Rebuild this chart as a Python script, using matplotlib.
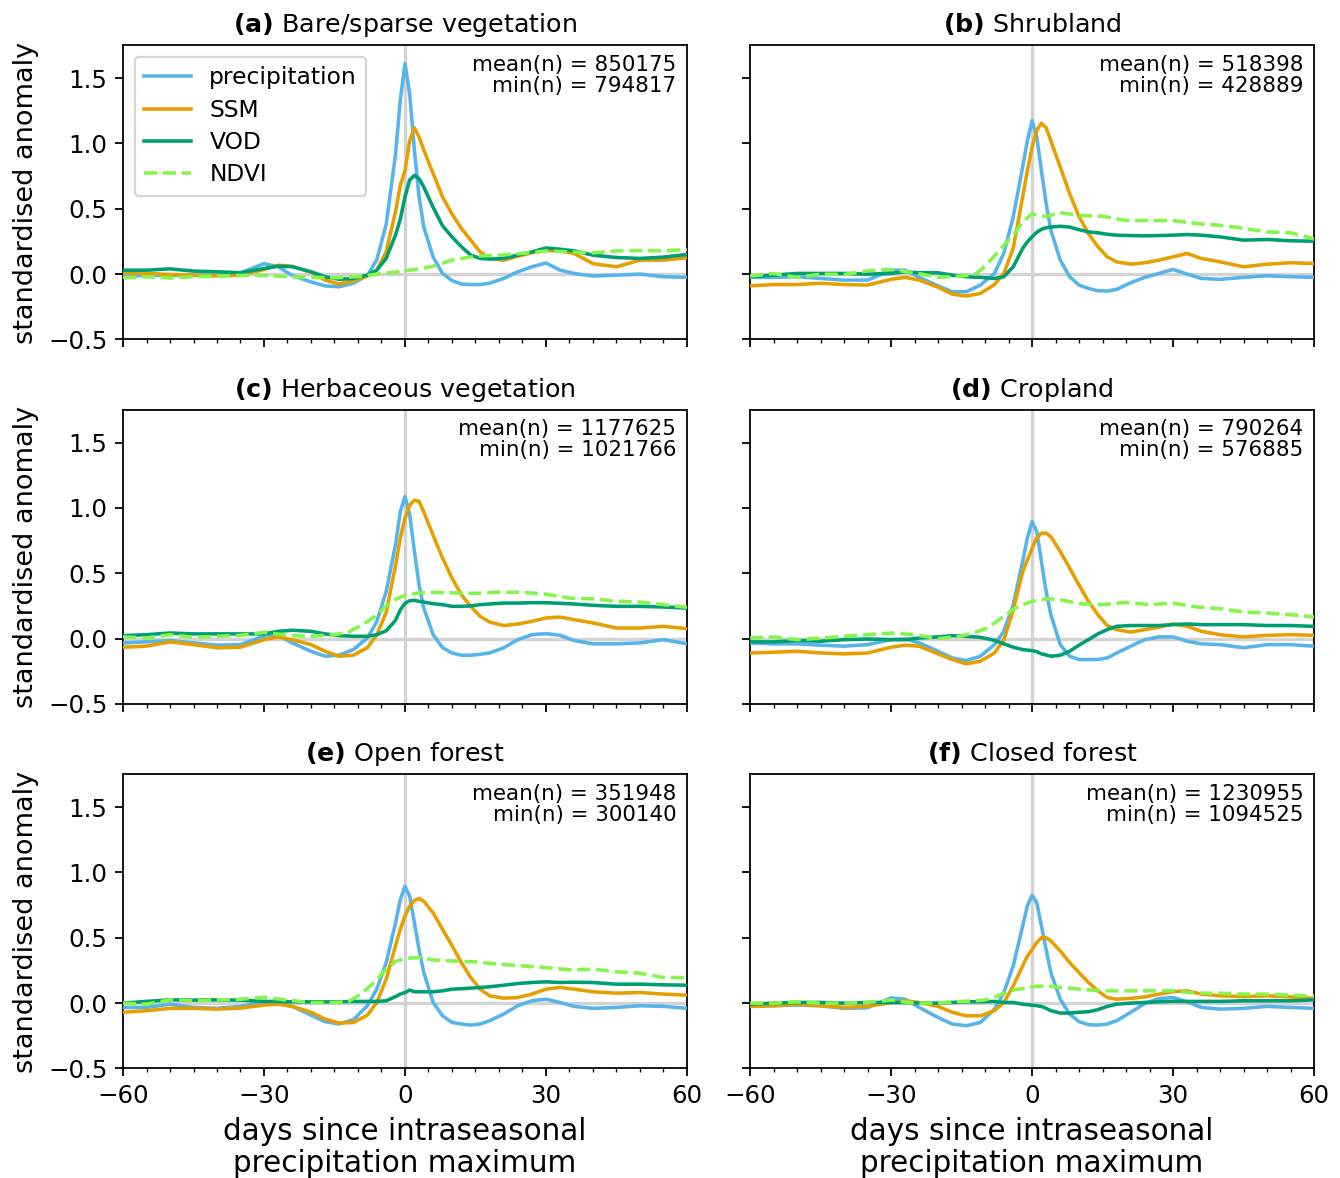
import matplotlib
matplotlib.use("Agg")
import matplotlib.pyplot as plt
from matplotlib.ticker import MultipleLocator

DAYS = [-60, -55, -50, -45, -40, -35, -30, -27, -24, -20, -17, -14, -11, -8, -6, -4, -2, -1, 0,
        1, 2, 3, 4, 6, 8, 10, 12, 14, 16, 18, 21, 24, 27, 30, 33, 36, 40, 45, 50, 55, 60]
NDVI_DAYS = [-60, -55, -50, -45, -40, -35, -30, -25, -20, -15, -12, -10, -8, -6, -4, -2, 0,
             3, 6, 10, 15, 20, 25, 30, 35, 40, 45, 50, 55, 60]

titles = ["Bare/sparse vegetation", "Shrubland", "Herbaceous vegetation",
          "Cropland", "Open forest", "Closed forest"]
letters = ["a", "b", "c", "d", "e", "f"]
mean_n = [850175, 518398, 1177625, 790264, 351948, 1230955]
min_n = [794817, 428889, 1021766, 576885, 300140, 1094525]

# (a) Bare/sparse vegetation
prec_a = [-0.015, -0.01, -0.01, -0.01, -0.01, 0.01, 0.08, 0.056, -0.01, -0.06, -0.09, -0.097, -0.07,
          -0.01, 0.11, 0.38, 0.92, 1.33, 1.61, 1.38, 0.95, 0.59, 0.36, 0.13, 0.005, -0.05, -0.076,
          -0.08, -0.08, -0.07, -0.033, 0.018, 0.056, 0.085, 0.03, 0.005, -0.015, -0.008, 0.0, -0.02, -0.025]
ssm_a = [0.01, 0.005, -0.003, -0.008, -0.013, -0.008, 0.035, 0.068, 0.06, 0.015, -0.046, -0.076, -0.05,
         -0.015, 0.03, 0.17, 0.48, 0.68, 0.79, 1.02, 1.12, 1.05, 0.95, 0.77, 0.59, 0.46, 0.35, 0.26,
         0.17, 0.12, 0.107, 0.137, 0.163, 0.18, 0.178, 0.158, 0.08, 0.056, 0.107, 0.107, 0.125]
vod_a = [0.03, 0.03, 0.04, 0.023, 0.018, 0.01, 0.043, 0.061, 0.056, 0.018, -0.02, -0.04, -0.033,
         -0.008, 0.03, 0.12, 0.3, 0.42, 0.59, 0.72, 0.756, 0.73, 0.667, 0.51, 0.37, 0.285, 0.21,
         0.145, 0.12, 0.115, 0.12, 0.145, 0.17, 0.2, 0.19, 0.178, 0.145, 0.127, 0.12, 0.13, 0.15]
ndvi_a = [-0.028, -0.02, -0.03, -0.02, -0.015, -0.01, -0.01, -0.02, -0.025, -0.028, -0.022, -0.02,
          -0.01, 0.0, 0.008, 0.015, 0.025, 0.04, 0.06, 0.107, 0.137, 0.145, 0.158, 0.178, 0.17,
          0.163, 0.178, 0.18, 0.178, 0.188]

# (b) Shrubland
prec_b = [-0.025, -0.025, -0.02, -0.033, -0.046, -0.046, 0.03, 0.03, -0.025, -0.09, -0.135, -0.135,
          -0.084, 0.005, 0.16, 0.44, 0.82, 1.02, 1.175, 1.05, 0.79, 0.54, 0.336, 0.107, -0.02, -0.084,
          -0.11, -0.127, -0.13, -0.117, -0.066, -0.025, 0.005, 0.036, 0.0, -0.033, -0.04, -0.025,
          -0.013, -0.02, -0.025]
ssm_b = [-0.09, -0.08, -0.08, -0.07, -0.08, -0.084, -0.04, -0.025, -0.046, -0.1, -0.153, -0.168,
         -0.148, -0.08, 0.005, 0.2, 0.59, 0.79, 0.97, 1.1, 1.155, 1.12, 1.02, 0.82, 0.616, 0.44,
         0.31, 0.21, 0.132, 0.094, 0.076, 0.087, 0.107, 0.132, 0.158, 0.12, 0.094, 0.056, 0.076,
         0.087, 0.081]
vod_b = [-0.02, -0.008, 0.005, 0.005, 0.005, 0.0, 0.005, 0.018, 0.01, 0.01, -0.008, -0.02, -0.025,
         -0.033, -0.02, 0.056, 0.196, 0.247, 0.285, 0.32, 0.343, 0.355, 0.36, 0.366, 0.36, 0.34,
         0.323, 0.316, 0.305, 0.298, 0.295, 0.293, 0.295, 0.298, 0.303, 0.298, 0.285, 0.26, 0.265,
         0.255, 0.252]
ndvi_b = [-0.015, 0.005, -0.025, 0.0, -0.003, 0.025, 0.036, 0.01, -0.025, -0.015, 0.0, 0.06, 0.14,
          0.22, 0.3, 0.4, 0.46, 0.44, 0.47, 0.45, 0.443, 0.41, 0.41, 0.41, 0.387, 0.374, 0.35,
          0.323, 0.316, 0.27]

# (c) Herbaceous vegetation
prec_c = [-0.033, -0.025, -0.015, -0.033, -0.05, -0.046, 0.02, 0.025, -0.033, -0.097, -0.135, -0.127,
          -0.084, 0.005, 0.13, 0.36, 0.72, 0.97, 1.087, 0.95, 0.67, 0.41, 0.234, 0.03, -0.07, -0.11,
          -0.127, -0.127, -0.12, -0.11, -0.07, -0.008, 0.03, 0.038, 0.025, -0.015, -0.04, -0.04,
          -0.033, -0.008, -0.04]
ssm_c = [-0.066, -0.058, -0.025, -0.046, -0.07, -0.066, -0.008, 0.013, -0.008, -0.046, -0.097,
         -0.135, -0.127, -0.07, 0.03, 0.2, 0.56, 0.77, 0.92, 1.02, 1.06, 1.05, 0.97, 0.79, 0.616,
         0.463, 0.336, 0.247, 0.17, 0.127, 0.1, 0.112, 0.132, 0.158, 0.165, 0.145, 0.12, 0.081,
         0.081, 0.094, 0.076]
vod_c = [0.023, 0.03, 0.043, 0.036, 0.036, 0.036, 0.036, 0.056, 0.064, 0.056, 0.036, 0.023, 0.018,
         0.018, 0.03, 0.06, 0.14, 0.22, 0.27, 0.29, 0.293, 0.285, 0.28, 0.267, 0.26, 0.247, 0.247,
         0.25, 0.26, 0.265, 0.272, 0.272, 0.275, 0.275, 0.27, 0.265, 0.255, 0.247, 0.247, 0.242, 0.234]
ndvi_c = [0.013, 0.005, 0.03, 0.01, 0.018, 0.025, 0.048, 0.025, 0.018, 0.03, 0.05, 0.09, 0.13, 0.18,
          0.25, 0.3, 0.33, 0.35, 0.354, 0.35, 0.346, 0.356, 0.354, 0.34, 0.31, 0.305, 0.285, 0.28,
          0.26, 0.24]

# (d) Cropland
prec_d = [-0.033, -0.04, -0.04, -0.05, -0.058, -0.046, -0.008, -0.003, -0.033, -0.097, -0.148, -0.168,
          -0.135, -0.046, 0.056, 0.26, 0.59, 0.77, 0.895, 0.82, 0.59, 0.36, 0.183, -0.046, -0.135,
          -0.16, -0.16, -0.16, -0.148, -0.11, -0.058, -0.008, 0.013, 0.013, -0.02, -0.04, -0.046,
          -0.07, -0.046, -0.046, -0.058]
ssm_d = [-0.11, -0.104, -0.097, -0.11, -0.117, -0.11, -0.066, -0.05, -0.058, -0.117, -0.16, -0.193,
         -0.173, -0.11, -0.01, 0.22, 0.51, 0.6, 0.69, 0.77, 0.807, 0.807, 0.78, 0.667, 0.54, 0.41,
         0.285, 0.183, 0.1, 0.069, 0.05, 0.069, 0.087, 0.112, 0.094, 0.056, 0.03, 0.013, 0.025,
         0.03, 0.025]
vod_d = [-0.025, -0.025, -0.015, -0.02, -0.008, -0.003, -0.008, -0.008, 0.005, 0.013, 0.023, 0.018,
         0.01, -0.013, -0.04, -0.066, -0.084, -0.088, -0.092, -0.1, -0.117, -0.125, -0.135, -0.127,
         -0.097, -0.05, -0.008, 0.036, 0.069, 0.094, 0.1, 0.1, 0.1, 0.107, 0.112, 0.107, 0.107,
         0.107, 0.1, 0.1, 0.094]
ndvi_d = [0.005, 0.013, -0.008, 0.003, 0.018, 0.03, 0.043, 0.03, 0.0, 0.02, 0.05, 0.075, 0.12, 0.17,
          0.225, 0.26, 0.285, 0.305, 0.298, 0.267, 0.26, 0.277, 0.26, 0.272, 0.242, 0.229, 0.204,
          0.196, 0.183, 0.165]

# (e) Open forest
prec_e = [-0.033, -0.033, -0.008, -0.033, -0.04, -0.025, 0.005, 0.013, -0.025, -0.092, -0.142, -0.16,
          -0.127, -0.02, 0.107, 0.31, 0.616, 0.79, 0.895, 0.82, 0.616, 0.41, 0.234, 0.005, -0.097,
          -0.148, -0.16, -0.168, -0.16, -0.135, -0.084, -0.02, 0.018, 0.03, 0.005, -0.025, -0.04,
          -0.033, -0.02, -0.025, -0.04]
ssm_e = [-0.07, -0.058, -0.04, -0.04, -0.046, -0.038, -0.015, -0.008, -0.025, -0.07, -0.122, -0.153,
         -0.148, -0.092, 0.005, 0.183, 0.44, 0.565, 0.667, 0.743, 0.786, 0.8, 0.78, 0.69, 0.565,
         0.44, 0.31, 0.196, 0.107, 0.056, 0.038, 0.043, 0.069, 0.107, 0.12, 0.107, 0.087, 0.076,
         0.081, 0.069, 0.061]
vod_e = [0.0, 0.013, 0.025, 0.023, 0.025, 0.023, 0.013, 0.013, 0.01, 0.01, 0.01, 0.01, 0.013, 0.013,
         0.013, 0.018, 0.05, 0.069, 0.081, 0.1, 0.087, 0.087, 0.087, 0.087, 0.094, 0.107, 0.11,
         0.115, 0.12, 0.125, 0.137, 0.15, 0.158, 0.163, 0.158, 0.16, 0.158, 0.145, 0.145, 0.14, 0.137]
ndvi_e = [0.0, -0.008, 0.025, 0.018, 0.025, 0.03, 0.045, 0.023, 0.005, 0.005, 0.013, 0.056, 0.112,
          0.18, 0.26, 0.32, 0.34, 0.35, 0.33, 0.323, 0.316, 0.298, 0.285, 0.272, 0.255, 0.26, 0.24,
          0.229, 0.196, 0.196]

# (f) Closed forest
prec_f = [-0.025, -0.02, -0.015, -0.02, -0.04, -0.035, 0.04, 0.03, -0.033, -0.11, -0.16, -0.173,
          -0.148, -0.046, 0.081, 0.285, 0.59, 0.743, 0.824, 0.77, 0.59, 0.41, 0.234, 0.03, -0.084,
          -0.142, -0.165, -0.168, -0.16, -0.135, -0.07, -0.003, 0.036, 0.043, 0.01, -0.033, -0.046,
          -0.04, -0.025, -0.033, -0.04]
ssm_f = [-0.025, -0.02, -0.008, -0.02, -0.033, -0.025, 0.005, 0.018, 0.005, -0.025, -0.07, -0.097,
         -0.097, -0.058, 0.005, 0.132, 0.285, 0.36, 0.41, 0.463, 0.5, 0.5, 0.476, 0.4, 0.31, 0.234,
         0.158, 0.094, 0.043, 0.03, 0.036, 0.048, 0.069, 0.087, 0.094, 0.069, 0.056, 0.05, 0.056,
         0.048, 0.036]
vod_f = [-0.008, 0.0, 0.005, 0.005, 0.0, 0.005, 0.005, 0.005, 0.0, 0.0, 0.005, 0.01, 0.01, 0.013,
         0.005, 0.005, -0.008, -0.012, -0.015, -0.02, -0.025, -0.04, -0.058, -0.076, -0.076, -0.07,
         -0.066, -0.05, -0.025, -0.008, 0.0, 0.005, 0.01, 0.013, 0.013, 0.013, 0.013, 0.018, 0.018,
         0.018, 0.025]
ndvi_f = [0.0, 0.0, 0.01, 0.0, 0.0, 0.005, 0.023, 0.0, 0.0, 0.013, 0.018, 0.025, 0.045, 0.075, 0.1,
          0.112, 0.127, 0.132, 0.12, 0.107, 0.094, 0.094, 0.094, 0.094, 0.076, 0.076, 0.069, 0.069,
          0.061, 0.056]

precip = [prec_a, prec_b, prec_c, prec_d, prec_e, prec_f]
ssm = [ssm_a, ssm_b, ssm_c, ssm_d, ssm_e, ssm_f]
vod = [vod_a, vod_b, vod_c, vod_d, vod_e, vod_f]
ndvi = [ndvi_a, ndvi_b, ndvi_c, ndvi_d, ndvi_e, ndvi_f]

C_P, C_S, C_V, C_N = "#56B4E9", "#E69F00", "#009E73", "#84F54A"

DPI = 160
fig, axes = plt.subplots(3, 2, figsize=(1340 / DPI, 1178 / DPI), dpi=DPI,
                         sharex=True, sharey=True)
fig.subplots_adjust(left=0.0918, right=0.9806, top=0.9614, bottom=0.093,
                    wspace=0.112, hspace=0.24)

for i, ax in enumerate(axes.flat):
    ax.axvline(0, color="#d3d3d3", lw=1.5, zorder=1)
    ax.axhline(0, color="#d3d3d3", lw=1.5, zorder=1)
    ax.plot(DAYS, precip[i], color=C_P, lw=1.6, label="precipitation", zorder=3)
    ax.plot(DAYS, ssm[i], color=C_S, lw=1.6, label="SSM", zorder=3)
    ax.plot(DAYS, vod[i], color=C_V, lw=1.6, label="VOD", zorder=3)
    ax.plot(NDVI_DAYS, ndvi[i], color=C_N, lw=1.6, ls="--", label="NDVI", zorder=3)
    ax.set_xlim(-60, 60)
    ax.set_ylim(-0.5, 1.75)
    ax.xaxis.set_major_locator(MultipleLocator(30))
    ax.xaxis.set_minor_locator(MultipleLocator(5))
    ax.yaxis.set_major_locator(MultipleLocator(0.5))
    ax.tick_params(labelsize=11)
    ax.set_title(r"$\bf{(" + letters[i] + r")}$ " + titles[i], fontsize=11.4)
    ax.text(0.981, 0.968, f"mean(n) = {mean_n[i]}\nmin(n) = {min_n[i]}",
            transform=ax.transAxes, ha="right", va="top", fontsize=9.6, linespacing=1.05)
    if i % 2 == 0:
        ax.set_ylabel("standardised anomaly", fontsize=12.2)
    if i >= 4:
        ax.set_xlabel("days since intraseasonal\nprecipitation maximum", fontsize=13.3,
                      linespacing=1.15)

axes[0, 0].legend(loc="upper left", fontsize=10.5, labelspacing=0.4)

fig.savefig("out.png", dpi=DPI)
